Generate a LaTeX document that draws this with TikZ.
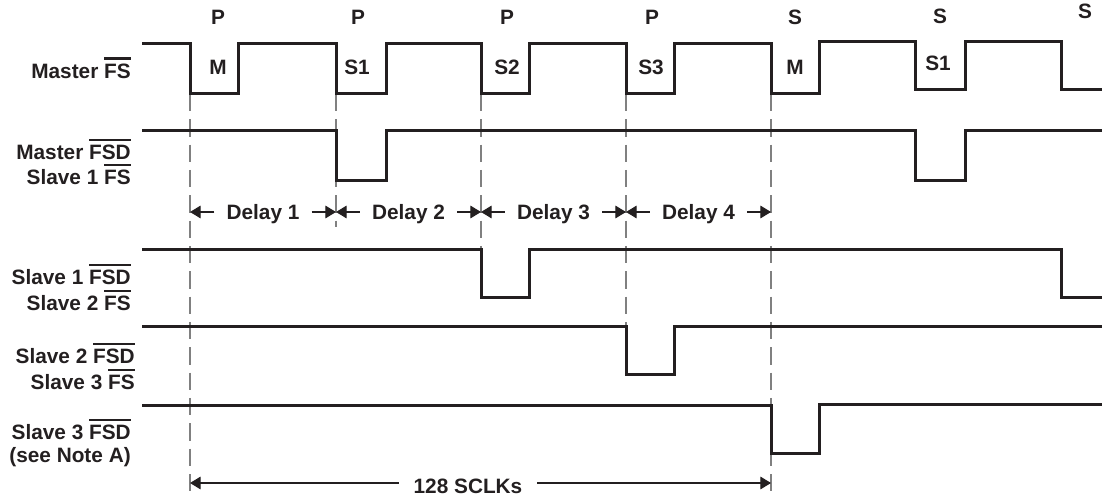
\documentclass[tikz,border=0pt]{standalone}
\usepackage{fontspec}
\setmainfont{Liberation Sans}
\usetikzlibrary{arrows.meta}
\definecolor{ink}{HTML}{231F20}
\newcommand{\inv}[2][3pt]{\leavevmode\vbox{\hrule height 1.8pt\kern #1\hbox{#2}}}
\tikzset{
  sig/.style={ink, line width=2.25pt, line join=miter},
  guide/.style={gray, line width=0.8pt, dash pattern=on 13pt off 6pt},
  dim/.style={ink, line width=0.9pt, -{Triangle[length=8pt,width=9.5pt]}},
  lbl/.style={ink, font=\fontsize{15.6}{19.2}\selectfont\bfseries, inner sep=0pt},
  gap/.style={lbl, inner xsep=9pt},
}
\begin{document}
\begin{tikzpicture}[x=0.75pt, y=-0.75pt]
    \useasboundingbox (0,0) rectangle (1102,498);
    \coordinate (t0) at (190,212);
    \coordinate (t1) at (336,212);
    \coordinate (t2) at (481,212);
    \coordinate (t3) at (626,212);
    \coordinate (t4) at (771,212);
    \coordinate (c0) at (190,483);
    \coordinate (c4) at (771,483);
    \node[lbl, anchor=base east] (MFS) at (131,79) {Master \inv[3.5pt]{FS}};
    \node[lbl, anchor=base east] (MFSD) at (131,159.5) {Master \inv{FSD}};
    \node[lbl, anchor=base east] (S1FS) at (131,185) {Slave 1 \inv{FS}};
    \node[lbl, anchor=base east] (S1FSD) at (131,284.5) {Slave 1 \inv{FSD}};
    \node[lbl, anchor=base east] (S2FS) at (131,311) {Slave 2 \inv{FS}};
    \node[lbl, anchor=base east] (S2FSD) at (135,363.5) {Slave 2 \inv{FSD}};
    \node[lbl, anchor=base east] (S3FS) at (135,390) {Slave 3 \inv{FS}};
    \node[lbl, anchor=base east] (S3FSD) at (131,439.5) {Slave 3 \inv{FSD}};
    \node[lbl, anchor=base east] (NA) at (131,462) {(see Note A)};
    \node[lbl, anchor=base] (P1) at (218,25) {P};
    \node[lbl, anchor=base] (P2) at (358,25) {P};
    \node[lbl, anchor=base] (P3) at (507,25) {P};
    \node[lbl, anchor=base] (P4) at (652,25) {P};
    \node[lbl, anchor=base] (SS1) at (795,25) {S};
    \node[lbl, anchor=base] (SS2) at (940,23.5) {S};
    \node[lbl, anchor=base] (SS3) at (1085,19) {S};
    \node[lbl, anchor=base] (M1) at (218,75) {M};
    \node[lbl, anchor=base] (A1) at (357,75) {S1};
    \node[lbl, anchor=base] (A2) at (507,74.5) {S2};
    \node[lbl, anchor=base] (A3) at (651,74.5) {S3};
    \node[lbl, anchor=base] (M2) at (795,74.5) {M};
    \node[lbl, anchor=base] (B1) at (938,71) {S1};
    \node[gap, anchor=base] (D1) at (263,219.5) {Delay 1};
    \node[gap, anchor=base] (D2) at (408.5,219.5) {Delay 2};
    \node[gap, anchor=base] (D3) at (553.5,219.5) {Delay 3};
    \node[gap, anchor=base] (D4) at (698.5,219.5) {Delay 4};
    \node[gap, inner xsep=11pt, anchor=base] (CK) at (468,493) {128 SCLKs};
    \draw[guide] (190,94) -- (190,497);
    \draw[guide] (336,94) -- (336,227);
    \draw[guide] (481,94) -- (481,298);
    \draw[guide] (626,94) -- (626,375);
    \draw[guide] (771,94) -- (771,497);
    \draw[sig] (142,44) -- (190,44) -- (190,94) -- (238,94) -- (238,44) -- (336,44) -- (336,94) -- (386,94) -- (386,44)
        -- (481,44) -- (481,94) -- (529,94) -- (529,44) -- (626,44) -- (626,94) -- (674,94) -- (674,44)
        -- (771,44) -- (771,94) -- (819,94) -- (819,42) -- (915,42) -- (915,90) -- (965,90) -- (965,42)
        -- (1061,42) -- (1061,90) -- (1104,90);
    \draw[sig] (142,131) -- (336,131) -- (336,181) -- (386,181) -- (386,131) -- (915,131) -- (915,181) -- (965,181) -- (965,131) -- (1104,131);
    \draw[sig] (142,250) -- (481,250) -- (481,298) -- (529,298) -- (529,250) -- (1061,250) -- (1061,298) -- (1104,298);
    \draw[sig] (142,327) -- (626,327) -- (626,375) -- (674,375) -- (674,327) -- (1104,327);
    \draw[sig] (142,406) -- (771,406) -- (771,453) -- (819,453) -- (819,405) -- (1104,405);
    \draw[dim] (D1.west |- t0) -- (t0);
    \draw[dim] (D1.east |- t1) -- (t1);
    \draw[dim] (D2.west |- t1) -- (t1);
    \draw[dim] (D2.east |- t2) -- (t2);
    \draw[dim] (D3.west |- t2) -- (t2);
    \draw[dim] (D3.east |- t3) -- (t3);
    \draw[dim] (D4.west |- t3) -- (t3);
    \draw[dim] (D4.east |- t4) -- (t4);
    \draw[dim] (CK.west |- c0) -- (c0);
    \draw[dim] (CK.east |- c4) -- (c4);
\end{tikzpicture}
\end{document}
